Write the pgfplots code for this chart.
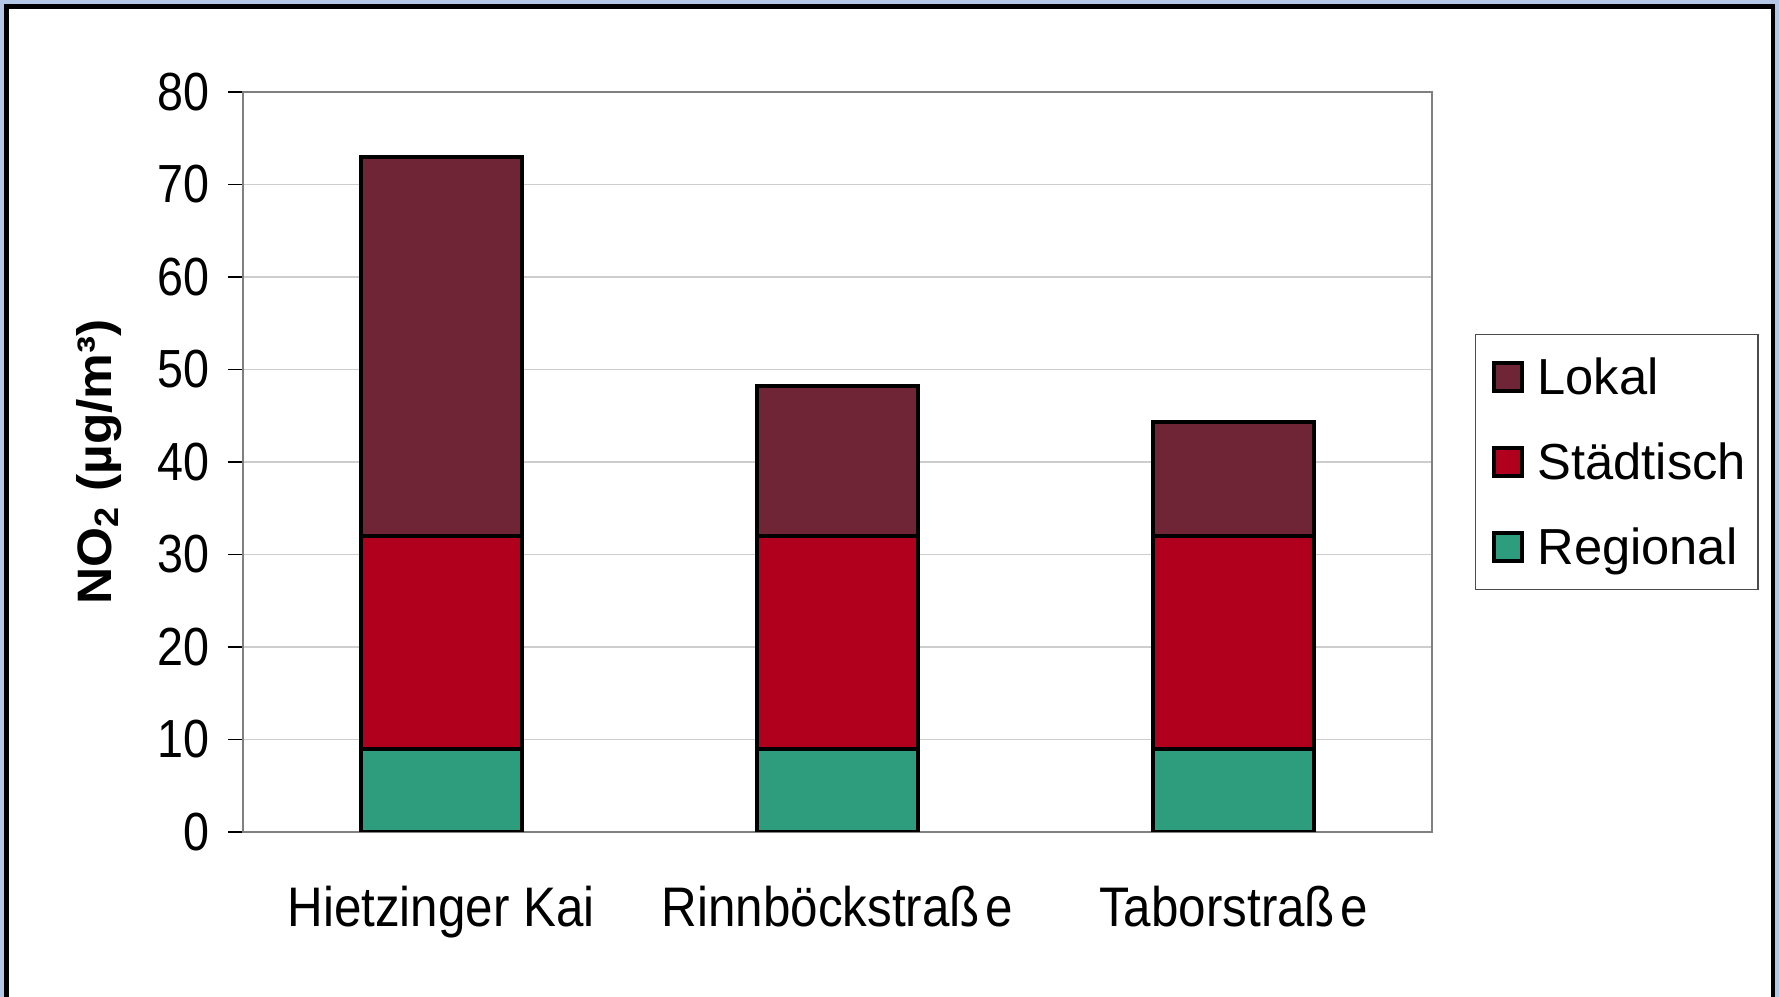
\documentclass[border=0pt]{standalone}
\usepackage{graphicx}
\usepackage{pgfplots}
\pgfplotsset{compat=1.18}
\usepackage{pgfplotstable}
\usepackage{fontspec}
\setmainfont{Liberation Sans}
\definecolor{lok}{RGB}{111,37,54}
\definecolor{sta}{RGB}{176,0,30}
\definecolor{reg}{RGB}{46,157,126}
\definecolor{bord}{RGB}{180,199,231}
\definecolor{axgray}{RGB}{128,128,128}
\definecolor{gridgray}{RGB}{205,205,205}
\pgfplotstableread{
x reg sta lok
0.5 9 23 41
1.5 9 23 16.2
2.5 9 23 12.3
}\data
\newcommand{\vs}[1]{\scalebox{1}[1.13]{#1}}
\begin{document}
\begin{tikzpicture}
\useasboundingbox (0,0) rectangle (533.7pt,299.1pt);
\fill[bord] (0,0) rectangle (533.7pt,299.1pt);
\fill[black] (1.2pt,0) rectangle (532.5pt,297.9pt);
\fill[white] (2.7pt,0) rectangle (531.3pt,296.4pt);
\begin{axis}[
  at={(72.9pt,49.5pt)}, anchor=south west,
  scale only axis, width=356.7pt, height=222pt,
  xmin=0, xmax=3, ymin=0, ymax=80,
  ybar stacked, bar width=48.3pt,
  axis line style={draw=axgray, line width=0.7pt},
  ymajorgrids, grid style={draw=gridgray, line width=0.45pt},
  ytick={0,10,...,80},
  yticklabel={\scalebox{1}[1.15]{\pgfmathprintnumber{\tick}}},
  xtick={0.5,1.5,2.5},
  xticklabels={\vs{Hietzinger Kai}, \vs{Rinnböckstraß\kern0.12em e}, \vs{Taborstraß\kern0.12em e}},
  xtick style={draw=none},
  extra x ticks={0,1,2,3}, extra x tick labels={},
  extra x tick style={xmajorgrids=false, tick style={draw=black, line width=0.4pt}},
  ytick style={draw=black, line width=0.4pt},
  tick align=outside, tick pos=left, major tick length=4.5pt,
  /pgf/number format/assume math mode=true,
  yticklabel style={font=\fontsize{14}{17}\selectfont, xshift=-2pt},
  xticklabel style={font=\fontsize{14.8}{17.8}\selectfont, yshift=-8.1pt},
  ylabel={\scalebox{1.064}[1]{NO\textsubscript{2} (µg/m³)}},
  ylabel style={font=\fontsize{14.5}{17.4}\selectfont\bfseries, at={(axis description cs:-0.121,0.5)}, anchor=center},
  reverse legend,
  legend style={at={(axis description cs:1.036,0.673)}, anchor=north west,
    draw=black!70, line width=0.4pt, inner xsep=1.6pt, inner ysep=3.5pt,
    font=\fontsize{15.2}{18.2}\selectfont, row sep=7pt,
    nodes={text height=12.5pt, text depth=2pt, inner ysep=2pt}},
  legend cell align=left,
  legend image code/.code={\path (0pt,0pt); \draw[#1, draw=black, line width=1.1pt] (3.4pt,-4.2pt) rectangle (11.8pt,4.2pt); \path (13.8pt,0pt);},
]
\addplot[fill=reg, draw=black, line width=1.2pt] table[x=x, y=reg] {\data};
\addplot[fill=sta, draw=black, line width=1.2pt] table[x=x, y=sta] {\data};
\addplot[fill=lok, draw=black, line width=1.2pt] table[x=x, y=lok] {\data};
\legend{Regional, Städtisch, Lokal}
\end{axis}
\end{tikzpicture}
\end{document}
